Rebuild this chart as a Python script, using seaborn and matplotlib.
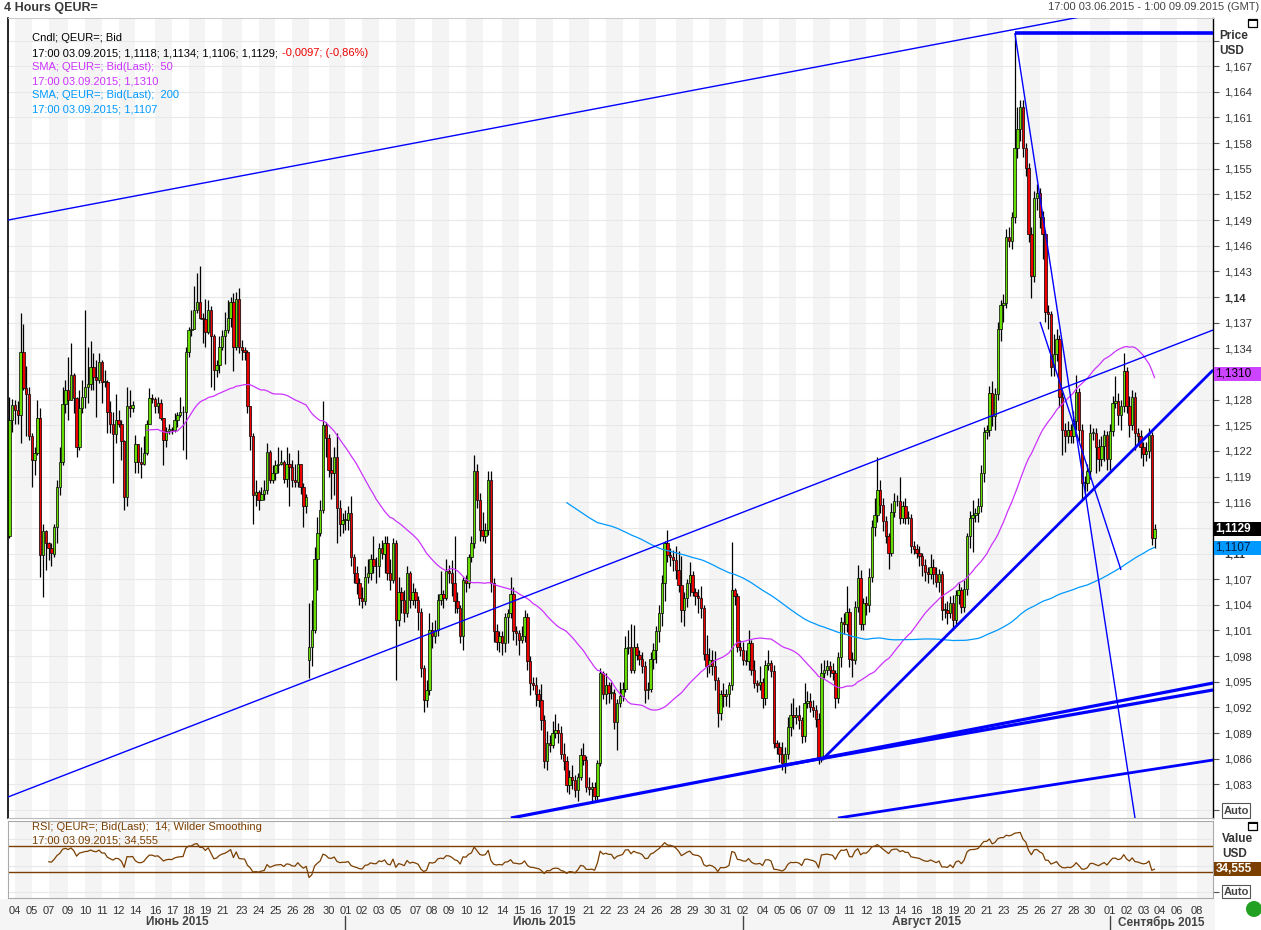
import numpy as np
import pandas as pd
import seaborn as sns
import matplotlib.pyplot as plt
import matplotlib.transforms as mtransforms
from matplotlib.patches import Rectangle, Ellipse

sns.set_style("white")
plt.rcParams['font.family'] = ['Liberation Sans', 'DejaVu Sans']

# 4h bars, Bid close, from 17:00 03.06.2015 to 17:00 03.09.2015
close_jun = [1.1256, 1.1274, 1.1268, 1.1262, 1.1336, 1.1293, 1.1287, 1.1237, 1.1209, 1.1217,
             1.1258, 1.1098, 1.1126, 1.1112, 1.1106, 1.1100, 1.1131, 1.1178, 1.1207, 1.1275,
             1.1291, 1.1280, 1.1309, 1.1282, 1.1225, 1.1270, 1.1283, 1.1295, 1.1298, 1.1318,
             1.1307, 1.1303, 1.1324, 1.1301, 1.1301, 1.1266, 1.1252, 1.1240, 1.1256, 1.1252,
             1.1231, 1.1166, 1.1272, 1.1270, 1.1274, 1.1228, 1.1207, 1.1205, 1.1217, 1.1252,
             1.1282, 1.1281, 1.1272, 1.1276, 1.1258, 1.1233, 1.1243, 1.1246, 1.1244, 1.1256,
             1.1262, 1.1265, 1.1266, 1.1336, 1.1361, 1.1363, 1.1385, 1.1394, 1.1375, 1.1374,
             1.1359, 1.1385, 1.1354, 1.1315, 1.1321, 1.1342, 1.1354, 1.1361, 1.1375, 1.1394,
             1.1342, 1.1398, 1.1342, 1.1338, 1.1336, 1.1272, 1.1237, 1.1168, 1.1172, 1.1162,
             1.1170, 1.1174, 1.1219, 1.1186, 1.1194, 1.1203, 1.1205, 1.1207, 1.1187, 1.1205,
             1.1201, 1.1186, 1.1184, 1.1205, 1.1178, 1.1155, 1.1166, 1.0991, 1.1011, 1.1093,
             1.1124, 1.1151, 1.1250, 1.1235, 1.1198, 1.1194, 1.1213, 1.1153, 1.1135, 1.1139]
close_jul = [1.1139, 1.1147, 1.1096, 1.1077, 1.1065, 1.1048, 1.1044, 1.1073, 1.1077, 1.1094,
             1.1085, 1.1085, 1.1106, 1.1100, 1.1112, 1.1077, 1.1069, 1.1112, 1.1022, 1.1055,
             1.1046, 1.1030, 1.1077, 1.1046, 1.1055, 1.1046, 1.1032, 1.0966, 1.0929, 1.0940,
             1.1010, 1.1003, 1.1010, 1.1046, 1.1053, 1.1048, 1.1079, 1.1077, 1.1065, 1.1044,
             1.1036, 1.1003, 1.1069, 1.1065, 1.1096, 1.1112, 1.1196, 1.1163, 1.1128, 1.1120,
             1.1128, 1.1186, 1.1065, 1.1009, 1.0997, 1.1003, 1.0995, 1.1026, 1.1030, 1.1053,
             1.1009, 1.1007, 1.0999, 1.1003, 1.1026, 1.0974, 1.0948, 1.0946, 1.0936, 1.0929,
             1.0905, 1.0857, 1.0878, 1.0876, 1.0890, 1.0894, 1.0890, 1.0866, 1.0857, 1.0829,
             1.0839, 1.0835, 1.0823, 1.0839, 1.0864, 1.0859, 1.0827, 1.0825, 1.0827, 1.0816,
             1.0855, 1.0960, 1.0936, 1.0946, 1.0937, 1.0937, 1.0903, 1.0925, 1.0933, 1.0942,
             1.0989, 1.0991, 1.0964, 1.0991, 1.0981, 1.0977, 1.0968, 1.0940, 1.0942, 1.0977,
             1.0987, 1.1009, 1.1030, 1.1065, 1.1112, 1.1098, 1.1096, 1.1092, 1.1081, 1.1063,
             1.1034, 1.1048, 1.1065, 1.1075, 1.1055, 1.1050, 1.1048, 1.1036, 1.0983, 1.0968,
             1.0975, 1.0968, 1.0952, 1.0913, 1.0936, 1.0933, 1.0936, 1.0946, 1.1057, 1.1050,
             1.0991, 1.0987]
close_aug = [1.0976, 1.0974, 1.0995, 1.0964, 1.0948, 1.0946, 1.0950, 1.0931,
             1.0970, 1.0972, 1.0962, 1.0878, 1.0874, 1.0866, 1.0855, 1.0866, 1.0897, 1.0911,
             1.0909, 1.0911, 1.0905, 1.0886, 1.0925, 1.0927, 1.0921, 1.0917, 1.0907, 1.0862,
             1.0960, 1.0964, 1.0968, 1.0964, 1.0960, 1.0931, 1.0979, 1.1020, 1.1018, 1.1032,
             1.0977, 1.0975, 1.1038, 1.1071, 1.1018, 1.1042, 1.1040, 1.1073, 1.1131, 1.1145,
             1.1174, 1.1157, 1.1138, 1.1120, 1.1101, 1.1149, 1.1161, 1.1161, 1.1142, 1.1155,
             1.1142, 1.1142, 1.1109, 1.1105, 1.1101, 1.1097, 1.1086, 1.1078, 1.1076, 1.1084,
             1.1076, 1.1067, 1.1076, 1.1034, 1.1034, 1.1030, 1.1042, 1.1022, 1.1051, 1.1057,
             1.1038, 1.1059, 1.1120, 1.1142, 1.1145, 1.1147, 1.1155, 1.1194, 1.1242, 1.1244,
             1.1288, 1.1261, 1.1286, 1.1363, 1.1391, 1.1393, 1.1470, 1.1466, 1.1493, 1.1574,
             1.1597, 1.1622, 1.1574, 1.1551, 1.1474, 1.1424, 1.1516, 1.1522, 1.1493, 1.1474,
             1.1383, 1.1380, 1.1318, 1.1333, 1.1351, 1.1283, 1.1245, 1.1237, 1.1245, 1.1237,
             1.1255, 1.1289, 1.1245, 1.1183, 1.1183, 1.1197, 1.1241, 1.1241, 1.1224, 1.1210,
             1.1226, 1.1239, 1.1210]
close_sep = [1.1243, 1.1276, 1.1278, 1.1262, 1.1272, 1.1314, 1.1272,
             1.1250, 1.1283, 1.1241, 1.1237, 1.1224, 1.1216, 1.1220, 1.1239, 1.1118, 1.1129]

# wick lengths above / below the body, pips
wick_up_jun = [27, 7, 6, 10, 45, 33, 26, 8, 4, 8,
               22, 12, 9, 2, 2, 6, 4, 8, 18, 20,
               12, 39, 37, 2, 1, 21, 20, 90, 44, 30,
               16, 19, 10, 2, 14, 2, 12, 14, 31, 12,
               4, 2, 23, 19, 4, 11, 0, 18, 20, 4,
               11, 5, 2, 7, 5, 0, 5, 6, 2, 8,
               4, 18, 6, 6, 4, 22, 28, 34, 42, 6,
               24, 11, 5, 3, 5, 12, 7, 22, 21, 6,
               11, 8, 13, 8, 4, 2, 0, 4, 14, 2,
               8, 12, 10, 2, 9, 6, 20, 14, 2, 20,
               12, 8, 19, 16, 0, 4, 4, 51, 35, 15,
               19, 12, 28, 4, 5, 15, 12, 28, 10, 8]
wick_dn_jun = [2, 14, 16, 10, 33, 2, 50, 4, 31, 17,
               2, 25, 49, 31, 14, 15, 4, 19, 10, 4,
               11, 24, 0, 18, 12, 4, 6, 13, 19, 7,
               16, 43, 4, 25, 6, 25, 11, 58, 11, 4,
               22, 15, 11, 10, 4, 13, 13, 17, 2, 2,
               0, 5, 8, 8, 2, 30, 8, 3, 4, 2,
               8, 2, 44, 55, 6, 7, 0, 4, 1, 28,
               17, 2, 59, 24, 8, 10, 4, 32, 3, 10,
               29, 4, 8, 12, 10, 8, 16, 33, 13, 11,
               0, 8, 4, 4, 4, 8, 9, 2, 5, 9,
               46, 8, 6, 6, 8, 24, 8, 21, 22, 4,
               36, 4, 4, 22, 8, 30, 25, 41, 15, 11]
wick_up_jul = [12, 8, 20, 4, 8, 6, 13, 12, 16, 6,
               26, 11, 6, 10, 8, 8, 16, 6, 4, 18,
               6, 11, 8, 3, 10, 5, 4, 4, 4, 12,
               20, 10, 12, 7, 27, 4, 14, 8, 15, 55,
               11, 4, 4, 6, 4, 8, 19, 9, 8, 20,
               8, 10, 10, 6, 8, 6, 6, 4, 5, 20,
               8, 6, 4, 12, 8, 4, 6, 8, 10, 6,
               18, 6, 14, 10, 14, 18, 8, 8, 12, 6,
               8, 14, 6, 4, 8, 14, 4, 12, 6, 6,
               4, 6, 2, 14, 4, 13, 5, 5, 17, 8,
               14, 19, 27, 25, 4, 6, 8, 6, 8, 8,
               8, 6, 10, 10, 3, 15, 9, 8, 17, 22,
               34, 7, 5, 15, 5, 5, 9, 14, 4, 22,
               15, 12, 18, 4, 4, 12, 6, 4, 57, 3,
               4, 8]
wick_dn_jul = [11, 12, 11, 12, 12, 8, 8, 4, 8, 8,
               8, 20, 12, 7, 23, 8, 12, 4, 70, 7,
               16, 10, 4, 10, 6, 10, 22, 11, 14, 9,
               5, 13, 8, 7, 6, 12, 2, 12, 15, 14,
               6, 8, 16, 10, 5, 6, 6, 10, 13, 5,
               8, 6, 10, 12, 10, 12, 14, 10, 31, 6,
               10, 14, 18, 4, 6, 10, 14, 6, 14, 8,
               12, 8, 10, 8, 4, 6, 12, 6, 10, 8,
               10, 10, 8, 12, 4, 6, 6, 8, 15, 4,
               6, 4, 6, 12, 12, 7, 8, 33, 5, 6,
               4, 6, 4, 4, 6, 7, 8, 15, 10, 4,
               12, 15, 12, 15, 20, 8, 11, 12, 11, 8,
               14, 19, 10, 15, 5, 10, 18, 11, 8, 13,
               8, 10, 12, 16, 8, 13, 11, 16, 6, 10,
               6, 7]
wick_up_aug = [9, 11, 16, 4, 12, 4, 18, 4,
               6, 15, 4, 8, 4, 6, 14, 8, 12, 14,
               20, 10, 12, 4, 24, 12, 10, 8, 6, 6,
               12, 12, 8, 6, 8, 4, 6, 6, 10, 30,
               4, 8, 6, 16, 10, 6, 8, 10, 8, 20,
               39, 12, 8, 6, 4, 10, 10, 8, 29, 6,
               10, 8, 4, 6, 6, 8, 4, 8, 6, 16,
               10, 8, 6, 4, 8, 10, 8, 10, 6, 8,
               4, 10, 4, 8, 18, 6, 10, 10, 6, 6,
               8, 14, 8, 8, 6, 10, 10, 12, 6, 135,
               25, 8, 8, 6, 6, 8, 8, 10, 6, 8,
               4, 8, 4, 24, 12, 4, 6, 8, 10, 6,
               12, 20, 4, 6, 8, 8, 10, 6, 6, 10,
               12, 6, 4]
wick_dn_aug = [6, 4, 10, 6, 5, 8, 6, 12,
               8, 6, 6, 6, 8, 10, 8, 12, 6, 10,
               14, 8, 10, 8, 6, 6, 6, 8, 10, 8,
               6, 6, 6, 8, 8, 12, 6, 12, 12, 10,
               10, 20, 4, 6, 8, 8, 12, 8, 6, 10,
               8, 10, 12, 8, 19, 4, 6, 6, 8, 6,
               8, 8, 8, 6, 6, 12, 12, 10, 10, 6,
               12, 6, 12, 12, 10, 12, 6, 12, 4, 10,
               8, 6, 8, 14, 40, 8, 10, 6, 10, 8,
               6, 12, 16, 6, 14, 20, 6, 8, 10, 6,
               12, 14, 10, 10, 10, 25, 6, 14, 12, 30,
               12, 18, 10, 10, 8, 12, 30, 18, 8, 8,
               8, 10, 14, 19, 12, 10, 10, 8, 30, 14,
               8, 18, 12]
wick_up_sep = [8, 8, 30, 10, 8, 20, 4, 12, 8, 6, 6, 8, 6, 10, 8, 3, 5]
wick_dn_sep = [12, 6, 6, 12, 18, 6, 8, 14, 6, 20, 8, 12, 14, 8, 8, 8, 12]

# bars that open away from the previous close (weekend gaps)
gap_open = {0: 1.1120, 45: 1.1207, 107: 1.0975}

# day groups on the time axis (the Sunday bar is grouped with Monday)
group_days = ['03', '04', '05', '07', '09', '10', '11', '12', '14', '16', '17', '18', '19', '21',
              '23', '24', '25', '26', '28', '30',
              '01', '02', '03', '05', '07', '08', '09', '10', '12', '14', '15', '16', '17', '19',
              '21', '22', '23', '24', '26', '28', '29', '30', '31',
              '02', '04', '05', '06', '07', '09', '11', '12', '13', '14', '16', '18', '19', '20',
              '21', '23', '25', '26', '27', '28', '30',
              '01', '02', '03', '04', '06', '08', '09']
group_bars = [2, 6, 6, 7, 6, 6, 6, 6, 7, 6, 6, 6, 6, 7, 6, 6, 6, 6, 7, 6,
              6, 6, 6, 7, 6, 6, 6, 6, 7, 6, 6, 6, 6, 7, 6, 6, 6, 6, 7, 6, 6, 6, 6,
              7, 6, 6, 6, 6, 7, 6, 6, 6, 6, 7, 6, 6, 6, 6, 7, 6, 6, 6, 6, 7,
              6, 6, 6, 6, 7, 6, 1]
month_names = ['Июнь 2015', 'Июль 2015', 'Август 2015', 'Сентябрь 2015']
month_first_group = [0, 20, 43, 64]

# price ticks whose labels are hidden behind the value boxes
hidden_ticks = [1.080, 1.113, 1.131, 1.170]

# drawn objects: (bar0, price0, bar1, price1, linewidth)
trend_lines = [(-0.5, 1.1490, 382.4, 1.17275, 1.0),
               (-0.5, 1.08152, 429.9, 1.13614, 1.0),
               (179.1, 1.07906, 429.9, 1.09485, 2.3),
               (276.9, 1.08526, 429.9, 1.09404, 2.3),
               (290.2, 1.08585, 429.9, 1.13146, 2.0),
               (295.9, 1.07906, 429.9, 1.08585, 2.0),
               (359.1, 1.17088, 429.9, 1.17088, 2.6),
               (359.1, 1.17088, 402.0, 1.07906, 1.0),
               (368.1, 1.13708, 397.0, 1.10807, 1.0)]

W, H = 1261, 930
PX = 8550.0  # pixels per 1.0 of price


def fx(px):
    return px / W


def fy(py):
    return 1 - py / H


close = np.array(close_jun + close_jul + close_aug + close_sep)
wick_up = np.array(wick_up_jun + wick_up_jul + wick_up_aug + wick_up_sep) * 1e-4
wick_dn = np.array(wick_dn_jun + wick_dn_jul + wick_dn_aug + wick_dn_sep) * 1e-4
n = min(len(close), len(wick_up), len(wick_dn))
close, wick_up, wick_dn = close[:n], wick_up[:n], wick_dn[:n]
bars = np.arange(n)
opens = np.r_[close[0], close[:-1]]
for b, v in gap_open.items():
    opens[b] = v
high = np.maximum(opens, close) + wick_up
low = np.minimum(opens, close) - wick_dn
rising = close >= opens

s = pd.Series(close)
df = pd.DataFrame({'bar': bars, 'sma50': s.rolling(50).mean(), 'sma200': s.rolling(200).mean()})
d = s.diff()
gain = d.clip(lower=0).ewm(alpha=1 / 14, adjust=False, min_periods=14).mean()
loss = (-d.clip(upper=0)).ewm(alpha=1 / 14, adjust=False, min_periods=14).mean()
df['rsi'] = 100 - 100 / (1 + gain / loss)

fig = plt.figure(figsize=(W / 100, H / 100), dpi=100)
ax = fig.add_axes([fx(8), fy(818), fx(1213) - fx(8), fy(18) - fy(818)])
axr = fig.add_axes([fx(8), fy(898), fx(1213) - fx(8), fy(821) - fy(898)])

xmin, xmax = -0.5, 429.86
starts = np.cumsum([0] + group_bars[:-1])
for k in range(1, len(starts), 2):
    x1 = starts[k + 1] if k + 1 < len(starts) else xmax
    for a in (ax, axr):
        a.axvspan(starts[k], x1, color='#f4f4f4', lw=0, zorder=0)

# candles
ax.vlines(bars, low, high, color='black', linewidth=0.9, zorder=3)
body = close - opens
body = np.where(np.abs(body) < 0.00008, 0.00008, body)
ax.bar(bars, body, bottom=opens, width=0.8,
       color=np.where(rising, '#66dd00', '#ee0000'), edgecolor='black', linewidth=0.5, zorder=4)

sns.lineplot(data=df, x='bar', y='sma50', color='#cc33ff', lw=0.9, ax=ax, zorder=5)
sns.lineplot(data=df, x='bar', y='sma200', color='#0099ff', lw=0.9, ax=ax, zorder=5)

for b0, p0, b1, p1, lw in trend_lines:
    ax.plot([b0, b1], [p0, p1], color='#0000ff', lw=lw, zorder=6, solid_capstyle='butt')

ylo, yhi = 1.14 - (818 - 297) / PX, 1.14 + (297 - 18) / PX
ax.set_xlim(xmin, xmax)
ax.set_ylim(ylo, yhi)
yt = np.round(np.arange(1.080, 1.1701, 0.003), 3)
ax.yaxis.tick_right()
ax.set_yticks(yt)
ylabels = ['' if any(abs(v - h) < 1e-6 for h in hidden_ticks)
           else f"{v:.3f}".rstrip('0').replace('.', ',') for v in yt]
ax.set_yticklabels(ylabels)
for lab, v in zip(ax.get_yticklabels(), yt):
    if abs(v * 100 - round(v * 100)) < 1e-6:
        lab.set_fontweight('bold')
ax.tick_params(axis='y', direction='out', length=4, width=0.8, color='#555555',
               labelsize=8, labelcolor='#333333', pad=4)
ax.set_xticks([])
ax.set_xlabel('')
ax.set_ylabel('')
ax.grid(axis='y', color='#e8e8e8', lw=0.8)
ax.set_axisbelow(True)
for side, col, w in (('left', 'black', 1.2), ('right', 'black', 1.0),
                     ('top', '#cccccc', 0.8), ('bottom', '#bbbbbb', 0.8)):
    ax.spines[side].set_color(col)
    ax.spines[side].set_linewidth(w)

# RSI panel
brown = '#7b3f00'
for g in (0, 40, 80):
    axr.axhline(g, color='#e8e8e8', lw=0.8, zorder=1)
axr.axhline(70, color=brown, lw=1.0, zorder=2)
axr.axhline(30, color=brown, lw=1.0, zorder=2)
sns.lineplot(data=df, x='bar', y='rsi', color=brown, lw=0.9, ax=axr, zorder=3)
axr.set_xlim(xmin, xmax)
axr.set_ylim(-8.5, 107)
axr.yaxis.tick_right()
axr.set_yticks([0])
axr.set_yticklabels([''])
axr.tick_params(axis='y', direction='out', length=4, color='#555555')
axr.set_xticks(starts[1:-1])
axr.set_xticklabels(group_days[1:-1])
axr.tick_params(axis='x', direction='out', length=4, width=0.8, color='#777777',
                labelsize=8, labelcolor='#333333', pad=2)
axr.set_xlabel('')
axr.set_ylabel('')
for side in ('left', 'right', 'top', 'bottom'):
    axr.spines[side].set_color('#aaaaaa')
    axr.spines[side].set_linewidth(0.8)

# label row background and month names
fig.add_artist(Rectangle((0, 0), fx(1215), fy(899), transform=fig.transFigure,
                         facecolor='#f5f5f5', edgecolor='none', zorder=-5))
mtrans = mtransforms.blended_transform_factory(axr.transData, fig.transFigure)
edges = [starts[g] for g in month_first_group] + [xmax]
for k, name in enumerate(month_names):
    c = (max(edges[k], xmin) + edges[k + 1]) / 2
    axr.text(c, fy(922), name, transform=mtrans, ha='center', va='center',
             fontsize=8.5, fontweight='bold', color='#444444', clip_on=False)
    if k > 0:
        axr.plot([edges[k], edges[k]], [fy(916), 0], transform=mtrans, color='#444444',
                 lw=1, clip_on=False)

# header texts
fig.text(fx(4), fy(8), '4 Hours QEUR=', fontsize=9, fontweight='bold', color='#3a3a3a', va='center')
fig.text(fx(1259), fy(7), '17:00 03.06.2015 - 1:00 09.09.2015 (GMT)', fontsize=8,
         color='#444444', va='center', ha='right')

# legend of the price panel
legend_rows = [(38, 'Cndl; QEUR=; Bid', 'black'),
               (53, '17:00 03.09.2015; 1,1118; 1,1134; 1,1106; 1,1129;', 'black'),
               (67, 'SMA; QEUR=; Bid(Last);  50', '#cc33ff'),
               (81, '17:00 03.09.2015; 1,1310', '#cc33ff'),
               (95, 'SMA; QEUR=; Bid(Last);  200', '#0099ff'),
               (109, '17:00 03.09.2015; 1,1107', '#0099ff')]
for yy, txt, col in legend_rows:
    t = fig.text(fx(32), fy(yy), txt, fontsize=8, color=col, va='center')
    if yy == 53:
        ax.annotate('-0,0097; (-0,86%)', xy=(1, 0.5), xycoords=t, xytext=(3, 0),
                    textcoords='offset points', va='center', ha='left', fontsize=8, color='#ee0000')
fig.text(fx(32), fy(827), 'RSI; QEUR=; Bid(Last);  14; Wilder Smoothing', fontsize=8,
         color=brown, va='center')
fig.text(fx(32), fy(840), '17:00 03.09.2015; 34,555', fontsize=8, color=brown, va='center')

# right-hand labels
fig.text(fx(1219), fy(36), 'Price', fontsize=8.5, fontweight='bold', color='#333333', va='center')
fig.text(fx(1219), fy(51), 'USD', fontsize=8.5, fontweight='bold', color='#333333', va='center')
fig.text(fx(1222), fy(839), 'Value', fontsize=8.5, fontweight='bold', color='#333333', va='center')
fig.text(fx(1222), fy(854), 'USD', fontsize=8.5, fontweight='bold', color='#333333', va='center')

ptrans = mtransforms.blended_transform_factory(ax.transAxes, ax.transData)
boxes = [(1.1310, '1,1310', '#cc44ff', 'black', 'normal'),
         (1.1107, '1,1107', '#0099ff', '#001a40', 'normal'),
         (1.1129, '1,1129', 'black', 'white', 'bold')]
bh = 14 / PX
for val, txt, face, tc, wt in boxes:
    ax.add_patch(Rectangle((1.0005, val - bh / 2), 0.04, bh, transform=ptrans,
                           facecolor=face, edgecolor='none', clip_on=False, zorder=10))
    ax.text(1.002, val, txt, transform=ptrans, fontsize=8.5, color=tc, fontweight=wt,
            va='center', ha='left', clip_on=False, zorder=11)
rtrans = mtransforms.blended_transform_factory(axr.transAxes, axr.transData)
rh = 14 / 0.675
axr.add_patch(Rectangle((1.001, 34.555 - rh / 2), 0.04, rh, transform=rtrans,
                        facecolor=brown, edgecolor='none', clip_on=False, zorder=10))
axr.text(1.002, 34.555, '34,555', transform=rtrans, fontsize=8.5, color='white',
         fontweight='bold', va='center', ha='left', clip_on=False, zorder=11)

for (x0, y0, x1, y1) in ((1222, 803, 1250, 818), (1222, 885, 1250, 898)):
    fig.add_artist(Rectangle((fx(x0), fy(y1)), fx(x1) - fx(x0), fy(y0) - fy(y1),
                             transform=fig.transFigure, facecolor='white', edgecolor='#555555',
                             lw=0.8, zorder=20))
    fig.text(fx((x0 + x1) / 2), fy((y0 + y1) / 2), 'Auto', fontsize=8, fontweight='bold',
             color='#444444', ha='center', va='center', zorder=21)

for (x0, y0) in ((1248, 19), (1248, 822)):
    fig.add_artist(Rectangle((fx(x0), fy(y0 + 8)), fx(9), 8 / H, transform=fig.transFigure,
                             facecolor='white', edgecolor='black', lw=0.9, zorder=20))
    fig.add_artist(Rectangle((fx(x0), fy(y0 + 2)), fx(9), 2 / H, transform=fig.transFigure,
                             facecolor='black', edgecolor='none', zorder=21))

fig.add_artist(Ellipse((fx(1254), fy(909)), 16 / W, 16 / H, transform=fig.transFigure,
                       facecolor='#22a022', edgecolor='none', zorder=20))

fig.savefig('out.png', dpi=100)
